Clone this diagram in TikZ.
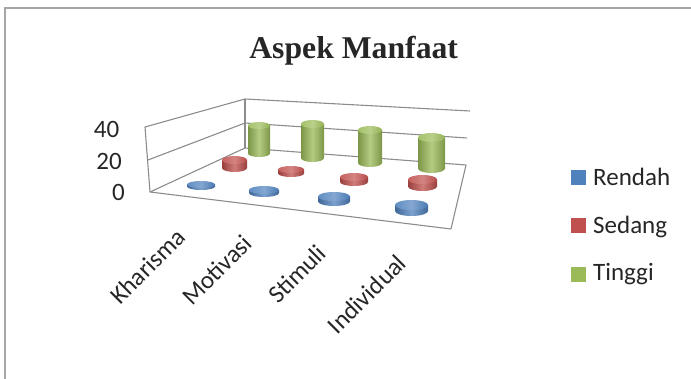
\documentclass[tikz,border=0pt]{standalone}
\usepackage{fontspec}
\setmainfont{Carlito}
\newfontfamily\titlefont{Liberation Serif}
\definecolor{cblue}{HTML}{4F81BD}
\definecolor{cred}{HTML}{C0504D}
\definecolor{cgreen}{HTML}{9BBB59}
\definecolor{axisgray}{HTML}{8C8C8C}
\definecolor{framegray}{HTML}{A6A6A6}
\definecolor{txt}{HTML}{262626}
\newcommand\mycyl[6]{%
  \shade[left color=#6!80!black, right color=#6!80!black, middle color=#6!75!white]
    (#1-#4,#2) -- (#1-#4,#3) arc[start angle=180,end angle=360,x radius=#4pt,y radius=#5pt] -- (#1+#4,#2) -- cycle;
  \shade[left color=#6!90!white, right color=#6!95!black, middle color=#6!70!white]
    (#1,#2) ellipse[x radius=#4pt,y radius=#5pt];
}
\begin{document}
\begin{tikzpicture}[x=1pt,y=-1pt,
  axisline/.style={draw=axisgray,line width=1.1pt,line join=round},
  lbl/.style={font=\fontsize{25}{30}\selectfont, text=txt, inner sep=0pt}]
\useasboundingbox (0,0) rectangle (691,379);
% frame
\draw[framegray,line width=2pt] (5,379) -- (5,8) -- (691,8);
% title
\node[font=\titlefont\bfseries\fontsize{31.7}{36}\selectfont, anchor=base, inner sep=0pt, text=txt] (title) at (353.7,58.3) {Aspek Manfaat};
% walls and floor
\coordinate (lwt) at (145,127);
\coordinate (lwm) at (148,160);
\coordinate (lwb) at (150,192);
\coordinate (bwt) at (245,99);
\coordinate (bwm) at (245,123);
\coordinate (bwb) at (245,148);
\coordinate (rwt) at (470,111);
\coordinate (rwm) at (467,138);
\coordinate (fbr) at (466,165);
\coordinate (ffr) at (451,229);
\draw[axisline] (lwb) -- (lwt) -- (bwt) -- (rwt);
\draw[axisline] (lwm) -- (bwm) -- (rwm);
\draw[axisline] (bwt) -- (bwb);
\draw[axisline] (lwb) -- (bwb) -- (fbr) -- (ffr) -- cycle;
% cylinders: green (back)
\mycyl{259}{125.5}{153.5}{11}{3.5}{cgreen}
\mycyl{312.5}{124}{158}{11.5}{4}{cgreen}
\mycyl{370}{130}{163}{12}{4}{cgreen}
\mycyl{431.5}{137.5}{168.5}{13.5}{4.5}{cgreen}
% red
\mycyl{234.5}{160}{168}{12.5}{4}{cred}
\mycyl{291}{169.5}{173.5}{13}{3.5}{cred}
\mycyl{354}{177}{182}{14}{4}{cred}
\mycyl{422.5}{179.5}{186.5}{14.5}{4.5}{cred}
% blue
\mycyl{201}{184.5}{186.5}{14}{3.5}{cblue}
\mycyl{264}{190}{193}{15}{4}{cblue}
\mycyl{334}{196.5}{201.5}{16}{4.5}{cblue}
\mycyl{411.5}{205}{211}{16.5}{5}{cblue}
% y labels
\node[lbl, anchor=east] (y40) at (119.5,129) {40};
\node[lbl, anchor=east] (y20) at (122,161) {20};
\node[lbl, anchor=east] (y0) at (125,192) {0};
% category labels
\node[lbl, rotate=45, anchor=base east] (c1) at (187,239) {Kharisma};
\node[lbl, rotate=45, anchor=base east] (c2) at (254,245) {Motivasi};
\node[lbl, rotate=45, anchor=base east] (c3) at (328,255) {Stimuli};
\node[lbl, rotate=45, anchor=base east] (c4) at (408,265) {Individual};
% legend
\fill[cblue] (571,170) rectangle (586,185);
\fill[cred] (571,218) rectangle (586,233);
\fill[cgreen] (571,267) rectangle (586,282);
\node[lbl, anchor=base west] (l1) at (593,186) {Rendah};
\node[lbl, anchor=base west] (l2) at (593,233.5) {Sedang};
\node[lbl, anchor=base west] (l3) at (593,281) {Tinggi};
\end{tikzpicture}
\end{document}
